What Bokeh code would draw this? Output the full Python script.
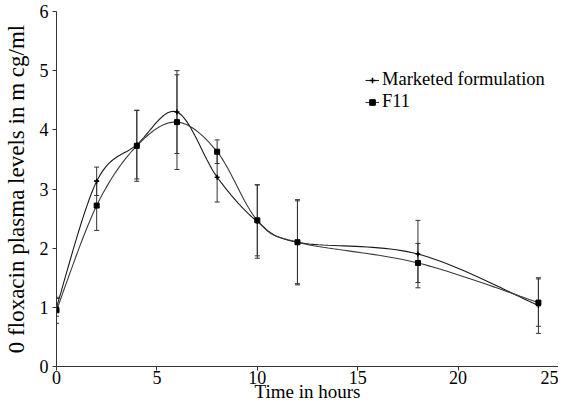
import numpy as np
from bokeh.plotting import figure
from bokeh.models import (ColumnDataSource, Whisker, TeeHead, Legend, LegendItem, Range1d,
                          FixedTicker)
from bokeh.embed import file_html
from bokeh.resources import INLINE

# ---- data ----
time_h = [0, 2, 4, 6, 8, 10, 12, 18, 24]
marketed = [1.0, 3.13, 3.75, 4.3, 3.2, 2.45, 2.1, 1.9, 1.03]
marketed_sd = [0.15, 0.24, 0.58, 0.7, 0.42, 0.62, 0.7, 0.57, 0.47]
f11 = [0.95, 2.72, 3.73, 4.13, 3.63, 2.47, 2.1, 1.75, 1.08]
f11_sd = [0.22, 0.42, 0.6, 0.8, 0.2, 0.6, 0.72, 0.33, 0.4]
x_ticks = [0, 5, 10, 15, 20, 25]
y_ticks = [0, 1, 2, 3, 4, 5, 6]
series_names = ["Marketed formulation", "F11"]
x_title = "Time in hours"
y_title = "0 floxacin plasma levels in m cg/ml"

FONT = "Liberation Serif"
W, H = 558, 404
X_END, Y_END = 25, 6

p = figure(width=W, height=H, output_backend="svg", toolbar_location=None,
           x_range=Range1d(0, X_END), y_range=Range1d(0, Y_END),
           min_border_left=48, min_border_right=0, min_border_top=11, min_border_bottom=0)
p.outline_line_color = None
p.grid.visible = False
p.background_fill_color = "white"

# smoothing (Excel-like bezier) computed in approximate pixel space
def smooth(xs, ys, sx=20.5, sy=59.3, n=24):
    P = np.column_stack([np.array(xs, float) * sx, np.array(ys, float) * sy])
    out = [P[0]]
    m = len(P)
    for i in range(m - 1):
        p0 = P[i - 1] if i > 0 else P[i]
        p1 = P[i]
        p2 = P[i + 1]
        p3 = P[i + 2] if i + 2 < m else P[i + 1]
        c1 = p1 + (p2 - p0) / 6.0
        c2 = p2 - (p3 - p1) / 6.0
        t = np.linspace(0, 1, n)[1:, None]
        seg = ((1 - t) ** 3) * p1 + 3 * ((1 - t) ** 2) * t * c1 + 3 * (1 - t) * t ** 2 * c2 + t ** 3 * p2
        out.extend(seg)
    out = np.array(out)
    return out[:, 0] / sx, out[:, 1] / sy

mx, my = smooth(time_h, marketed)
fx, fy = smooth(time_h, f11)

l1 = p.line(mx, my, line_color="#1a1a1a", line_width=1.1)
l2 = p.line(fx, fy, line_color="#3a3a3a", line_width=1.1)

src_m = ColumnDataSource(dict(x=time_h, y=marketed,
                              lo=[a - b for a, b in zip(marketed, marketed_sd)],
                              hi=[a + b for a, b in zip(marketed, marketed_sd)]))
src_f = ColumnDataSource(dict(x=time_h, y=f11,
                              lo=[a - b for a, b in zip(f11, f11_sd)],
                              hi=[a + b for a, b in zip(f11, f11_sd)]))

for src in (src_m, src_f):
    w = Whisker(source=src, base="x", upper="hi", lower="lo", line_color="#333333", line_width=1,
                upper_head=TeeHead(size=5, line_color="#333333"),
                lower_head=TeeHead(size=5, line_color="#333333"))
    p.add_layout(w)

m1 = p.scatter("x", "y", source=src_m, marker="cross", size=5, line_color="black", line_width=1.5)
m2 = p.scatter("x", "y", source=src_f, marker="square", size=5, fill_color="black", line_color="black")

# axes
for ax in (p.xaxis[0], p.yaxis[0]):
    ax.axis_line_color = "#333333"
    ax.major_tick_line_color = "#333333"
    ax.minor_tick_line_color = None
    ax.major_tick_in = 0
    ax.major_tick_out = 4
    ax.major_label_text_font = FONT
    ax.major_label_text_font_size = "18px"
    ax.major_label_text_color = "black"
    ax.axis_label_text_font = FONT
    ax.axis_label_text_font_style = "normal"
    ax.axis_label_text_color = "black"

p.xaxis.ticker = FixedTicker(ticks=x_ticks)
p.yaxis.ticker = FixedTicker(ticks=y_ticks)
p.xaxis.axis_label = x_title
p.xaxis.axis_label_text_font_size = "19px"
p.xaxis.major_label_standoff = 0
p.xaxis.axis_label_standoff = -6
p.yaxis.axis_label = y_title
p.yaxis.axis_label_text_font_size = "23px"
p.yaxis.major_label_standoff = 4
p.yaxis.axis_label_standoff = 8

legend = Legend(items=[LegendItem(label=series_names[0], renderers=[l1, m1]),
                       LegendItem(label=series_names[1], renderers=[l2, m2])],
                location=(309, 254), orientation="vertical",
                label_text_font=FONT, label_text_font_size="18.5px", label_text_color="black",
                glyph_width=14, glyph_height=20, label_height=20, label_standoff=3,
                spacing=1, padding=0, margin=0,
                background_fill_alpha=0, border_line_color=None)
p.add_layout(legend)

open("out.html", "w").write(file_html(p, INLINE))
